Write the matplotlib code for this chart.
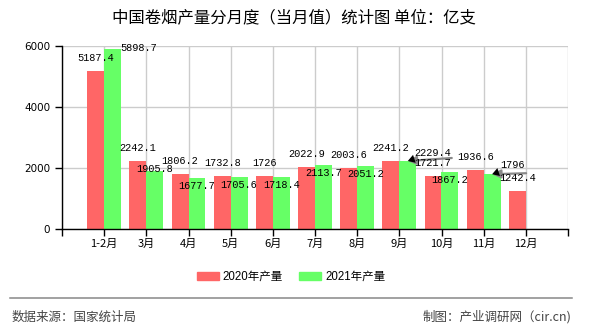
"""中国卷烟产量分月度（当月值）统计图"""
import matplotlib
matplotlib.use("Agg")
import matplotlib.pyplot as plt
import numpy as np

plt.rcParams['font.family'] = ['DejaVu Sans', 'Noto Sans CJK SC']

months = ['1-2月', '3月', '4月', '5月', '6月', '7月', '8月', '9月', '10月', '11月', '12月']
prod_2020 = [5187.4, 2242.1, 1806.2, 1732.8, 1726, 2022.9, 2003.6, 2241.2, 1721.7, 1936.6, 1242.4]
prod_2021 = [5898.7, 1905.8, 1677.7, 1705.6, 1718.4, 2113.7, 2051.2, 2229.4, 1867.2, 1796]
label_2020 = ['5187.4', '2242.1', '1806.2', '1732.8', '1726', '2022.9', '2003.6', '2241.2', '1721.7', '1936.6', '1242.4']
label_2021 = ['5898.7', '1905.8', '1677.7', '1705.6', '1718.4', '2113.7', '2051.2', '2229.4', '1867.2', '1796']

RED = '#ff6666'
GREEN = '#66ff66'
W = 0.4

fig = plt.figure(figsize=(5.9, 3.3), dpi=100)
ax = fig.add_axes([62 / 590, 1 - 229 / 330, 506 / 590, 183 / 330])

x20 = np.arange(len(prod_2020))
x21 = np.arange(len(prod_2021))
ax.bar(x20 - W / 2, prod_2020, W, color=RED, zorder=2)
ax.bar(x21 + W / 2, prod_2021, W, color=GREEN, zorder=2)

ax.set_xlim(-1, 11)
ax.set_ylim(0, 6000)
ax.set_yticks([0, 2000, 4000, 6000])
ax.set_xticks(np.arange(-1, 12))
ax.set_xticklabels([''] + months + [''], fontsize=8, family=['Noto Sans CJK SC'])
ax.tick_params(axis='y', labelsize=7.5, length=5, width=1)
ax.tick_params(axis='x', length=5, width=1, pad=2)
ax.grid(True, color='#cccccc', linewidth=1, zorder=0)
for s in ['top', 'right']:
    ax.spines[s].set_visible(False)
for s in ['left', 'bottom']:
    ax.spines[s].set_linewidth(1)
    ax.spines[s].set_zorder(3)

lab_font = dict(fontsize=7.4, family=['Liberation Mono'], ha='center', va='center', zorder=5)

# red labels sit above the bar
for i, v in enumerate(prod_2020):
    ax.annotate(label_2020[i], (x20[i] - W / 2, v), xytext=(0, 13),
                textcoords='offset pixels', **lab_font)

# green labels sit just under the bar top, a few are pushed aside
green_off = {0: (26, 1), 1: (0, 2), 7: (25, 8), 9: (20, 9)}
leaders = {7: (44, 3), 9: (34, 1)}
for i, v in enumerate(prod_2021):
    dx, dy = green_off.get(i, (0, -8))
    ax.annotate(label_2021[i], (x21[i] + W / 2, v), xytext=(dx, dy),
                textcoords='offset pixels', **lab_font)
    if i in leaders:
        ax.annotate('', (x21[i] + W / 2, v), xytext=leaders[i], textcoords='offset pixels',
                    arrowprops=dict(arrowstyle='-|>,head_length=0.5,head_width=0.25',
                                    color='#888888', lw=1.6, shrinkA=0, shrinkB=0),
                    zorder=4)
        ax.annotate('', (x21[i] + W / 2, v), xytext=(3, 1), textcoords='offset pixels',
                    arrowprops=dict(arrowstyle='-|>,head_length=0.5,head_width=0.3',
                                    color='black', lw=0, shrinkA=0, shrinkB=0),
                    zorder=5)

fig.text(294 / 590, 1 - 18 / 330, '中国卷烟产量分月度（当月值）统计图 单位：亿支',
         ha='center', va='center', fontsize=11.8, family=['Noto Sans CJK SC'])

handles = [plt.Rectangle((0, 0), 1, 1, color=RED), plt.Rectangle((0, 0), 1, 1, color=GREEN)]
fig.legend(handles, ['2020年产量', '2021年产量'], loc='center', ncol=2, frameon=False,
           bbox_to_anchor=(291 / 590, 1 - 277 / 330),
           prop={'family': ['Liberation Sans', 'Noto Sans CJK SC'], 'size': 8.3},
           handlelength=1.9, handleheight=0.7, handletextpad=0.35, columnspacing=1.4)

fig.add_artist(plt.Line2D([10 / 590, 572 / 590], [1 - 298 / 330] * 2, color='#888888', lw=1.1))
fig.text(12 / 590, 1 - 317 / 330, '数据来源：国家统计局', ha='left', va='center',
         fontsize=9, family=['Noto Sans CJK SC'], color='#444444')
fig.text(571 / 590, 1 - 317 / 330, '制图：产业调研网（cir.cn)', ha='right', va='center',
         fontsize=9, family=['Noto Sans CJK SC'], color='#444444')

fig.savefig('out.png', dpi=100)
